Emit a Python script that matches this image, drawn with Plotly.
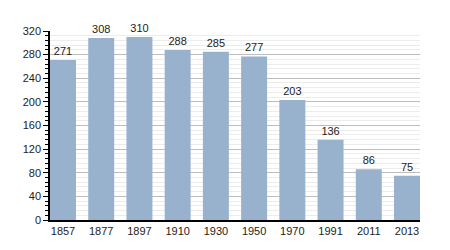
import plotly.graph_objects as go

years = ["1857", "1877", "1897", "1910", "1930", "1950", "1970", "1991", "2011", "2013"]
population = [271, 308, 310, 288, 285, 277, 203, 136, 86, 75]
y_ticks = [0, 40, 80, 120, 160, 200, 240, 280, 320]

fig = go.Figure(go.Bar(
    x=years, y=population,
    text=[str(v) for v in population],
    textposition="outside",
    textfont=dict(family="Liberation Sans, Arial", size=11, color="#222"),
    marker=dict(color="#98b2cd", line=dict(width=0)),
    width=0.68,
    cliponaxis=False,
))

fig.update_layout(
    width=450, height=250,
    margin=dict(l=50, r=30, t=31, b=30),
    paper_bgcolor="white", plot_bgcolor="white",
    showlegend=False,
    font=dict(family="Liberation Sans, Arial", size=11, color="#222"),
)
fig.update_xaxes(
    type="category", range=[-0.34, 9.34],
    showline=True, linecolor="black", linewidth=1.5,
    ticks="", showgrid=False,
    tickfont=dict(size=11),
)
fig.update_yaxes(
    range=[0, 320], tickvals=y_ticks,
    showline=True, linecolor="black", linewidth=1.5,
    ticks="outside", ticklen=5, tickcolor="black",
    showgrid=True, gridcolor="#bdbdbd", gridwidth=1,
    zeroline=False,
    minor=dict(dtick=8, ticks="outside", ticklen=3, tickcolor="black",
               showgrid=True, gridcolor="#ececec", gridwidth=1),
    tickfont=dict(size=11),
)

fig.write_html("out.html")
